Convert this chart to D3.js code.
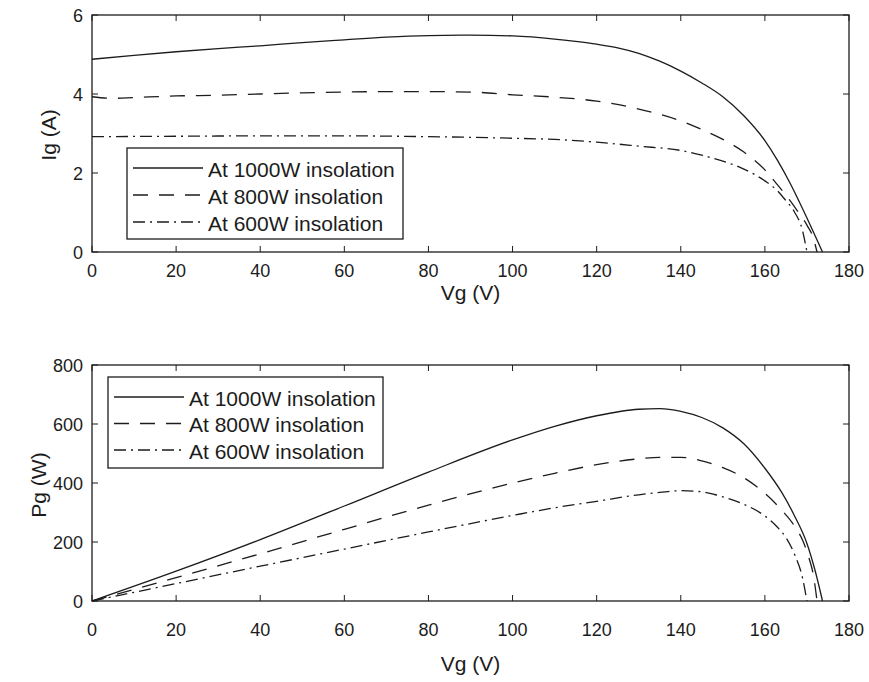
<!DOCTYPE html>
<html>
<head>
<meta charset="utf-8">
<script src="https://cdn.jsdelivr.net/npm/d3@7"></script>
<style>
  html, body { margin: 0; padding: 0; background: #fff; }
  svg { display: block; font-family: "Liberation Sans", Arial, sans-serif; }
</style>
</head>
<body>
<svg id="chart" width="869" height="682"></svg>
<script>
// values
const legendNames = ['At 1000W insolation', 'At 800W insolation', 'At 600W insolation'];
const vTicks = [0, 20, 40, 60, 80, 100, 120, 140, 160, 180];
const igTicks = [0, 2, 4, 6];
const pgTicks = [0, 200, 400, 600, 800];

// I-V curves
const iv1000V = [0, 10, 20, 30, 40, 50, 60, 70, 80, 90, 100, 110, 115, 120, 125, 130, 135, 140, 145, 150, 155, 160, 163, 166, 168, 170, 172, 173.7];
const iv1000I = [4.88, 4.98, 5.07, 5.15, 5.22, 5.30, 5.37, 5.44, 5.48, 5.49, 5.47, 5.39, 5.33, 5.26, 5.17, 5.03, 4.83, 4.58, 4.28, 3.93, 3.45, 2.82, 2.32, 1.74, 1.31, 0.86, 0.40, 0];
const iv800V = [0, 5, 10, 20, 30, 40, 50, 60, 70, 80, 90, 100, 110, 120, 130, 140, 145, 150, 155, 160, 163, 166, 168, 170, 171.5, 172.4];
const iv800I = [3.93, 3.89, 3.91, 3.95, 3.97, 4.00, 4.03, 4.05, 4.06, 4.06, 4.05, 3.98, 3.92, 3.82, 3.62, 3.32, 3.10, 2.85, 2.53, 2.08, 1.70, 1.30, 1.00, 0.68, 0.36, 0];
const iv600V = [0, 20, 40, 60, 80, 100, 110, 120, 130, 140, 145, 150, 155, 160, 163, 165, 167, 169, 170];
const iv600I = [2.92, 2.93, 2.94, 2.94, 2.92, 2.88, 2.85, 2.78, 2.68, 2.57, 2.45, 2.30, 2.10, 1.80, 1.55, 1.30, 1.02, 0.52, 0];

// P-V curves
const pv1000V = [0, 20, 40, 60, 80, 100, 110, 120, 130, 135, 140, 145, 150, 155, 160, 164, 167, 170, 172, 173.7];
const pv1000P = [0, 101, 208, 322, 437, 546, 592, 628, 650, 652, 643, 622, 587, 533, 450, 368, 290, 195, 100, 0];
const pv800V = [0, 20, 40, 60, 80, 100, 110, 120, 130, 135, 140, 145, 150, 155, 160, 164, 167, 169, 170.5, 171.5, 172.4];
const pv800P = [0, 79, 160, 243, 325, 400, 433, 462, 482, 487, 487, 475, 452, 418, 365, 308, 255, 205, 145, 90, 0];
const pv600V = [0, 20, 40, 60, 80, 100, 110, 120, 130, 135, 140, 145, 148, 150, 155, 160, 163, 165, 167, 169, 170];
const pv600P = [0, 59, 118, 176, 234, 290, 316, 338, 360, 368, 374, 370, 361, 353, 328, 288, 250, 215, 160, 75, 0];

const dashes = [null, '15,11', '12,5,2,5'];
const ink = '#1c1c1c';

const svg = d3.select('#chart');
const x = d3.scaleLinear().domain([0, 180]).range([92, 849]);

function zip(xs, ys) { return xs.map((v, i) => [v, ys[i]]); }

function panel(top, bottom, yMax, yTicks, yLabel, tickLabelY, xLabelY, yLabelX, yLabelY, curves, leg) {
  const y = d3.scaleLinear().domain([0, yMax]).range([bottom, top]);
  const g = svg.append('g');

  const line = d3.line().x(d => x(d[0])).y(d => y(d[1])).curve(d3.curveMonotoneX);
  curves.forEach((c, i) => {
    g.append('path').attr('d', line(c)).attr('fill', 'none').attr('stroke', ink)
      .attr('stroke-width', 1.3).attr('stroke-dasharray', dashes[i]);
  });

  // inward ticks on all four sides
  const tk = 6;
  g.append('g').selectAll('line').data(vTicks).enter().append('line')
    .attr('x1', d => x(d)).attr('x2', d => x(d)).attr('y1', bottom).attr('y2', bottom - tk)
    .attr('stroke', ink).attr('stroke-width', 1);
  g.append('g').selectAll('line').data(vTicks).enter().append('line')
    .attr('x1', d => x(d)).attr('x2', d => x(d)).attr('y1', top).attr('y2', top + tk)
    .attr('stroke', ink).attr('stroke-width', 1);
  g.append('g').selectAll('line').data(yTicks).enter().append('line')
    .attr('x1', x(0)).attr('x2', x(0) + tk).attr('y1', d => y(d)).attr('y2', d => y(d))
    .attr('stroke', ink).attr('stroke-width', 1);
  g.append('g').selectAll('line').data(yTicks).enter().append('line')
    .attr('x1', x(180)).attr('x2', x(180) - tk).attr('y1', d => y(d)).attr('y2', d => y(d))
    .attr('stroke', ink).attr('stroke-width', 1);

  g.append('rect').attr('x', x(0)).attr('y', top).attr('width', x(180) - x(0)).attr('height', bottom - top)
    .attr('fill', 'none').attr('stroke', ink).attr('stroke-width', 1.3);

  g.append('g').selectAll('text').data(vTicks).enter().append('text')
    .attr('x', d => x(d)).attr('y', tickLabelY).attr('text-anchor', 'middle').attr('dominant-baseline', 'central')
    .attr('font-size', 18).attr('fill', ink).text(d => d);
  g.append('g').selectAll('text').data(yTicks).enter().append('text')
    .attr('x', x(0) - 9).attr('y', d => y(d) + 1).attr('text-anchor', 'end').attr('dominant-baseline', 'central')
    .attr('font-size', 18).attr('fill', ink).text(d => d);

  g.append('text').attr('x', (x(0) + x(180)) / 2).attr('y', xLabelY).attr('text-anchor', 'middle')
    .attr('dominant-baseline', 'central').attr('font-size', 21).attr('fill', ink).text('Vg (V)');
  g.append('text').attr('transform', `translate(${yLabelX},${yLabelY}) rotate(-90)`).attr('text-anchor', 'middle')
    .attr('dominant-baseline', 'central').attr('font-size', 21).attr('fill', ink).text(yLabel);

  // legend
  const lg = g.append('g').attr('transform', `translate(${leg.x},${leg.y})`);
  lg.append('rect').attr('width', leg.w).attr('height', leg.h).attr('fill', '#fff')
    .attr('stroke', ink).attr('stroke-width', 1.3);
  legendNames.forEach((name, i) => {
    const cy = leg.row0 + i * leg.step;
    lg.append('line').attr('x1', 6).attr('x2', 76).attr('y1', cy).attr('y2', cy)
      .attr('stroke', ink).attr('stroke-width', 1.3).attr('stroke-dasharray', dashes[i]);
    lg.append('text').attr('x', 81).attr('y', cy + 1).attr('dominant-baseline', 'central')
      .attr('font-size', 21).attr('fill', ink).text(name);
  });
}

panel(15, 252, 6, igTicks, 'Ig (A)', 271, 292, 48, 135,
  [zip(iv1000V, iv1000I), zip(iv800V, iv800I), zip(iv600V, iv600I)],
  { x: 127, y: 148, w: 276, h: 91, row0: 20, step: 27 });

panel(365, 601, 800, pgTicks, 'Pg (W)', 630, 663, 38, 485,
  [zip(pv1000V, pv1000P), zip(pv800V, pv800P), zip(pv600V, pv600P)],
  { x: 108, y: 377, w: 275, h: 91, row0: 20, step: 26.5 });
</script>
</body>
</html>
